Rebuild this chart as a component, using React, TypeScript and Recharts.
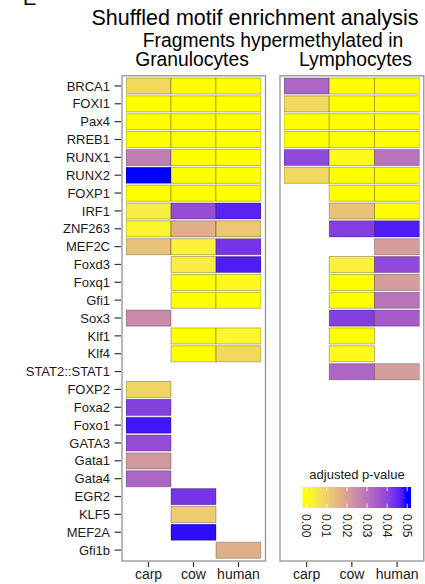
import React from 'react';
import { BarChart, Bar, XAxis, YAxis, Cell } from 'recharts';

// ---------------- data ----------------
const motifs = [
  'BRCA1', 'FOXI1', 'Pax4', 'RREB1', 'RUNX1', 'RUNX2', 'FOXP1', 'IRF1', 'ZNF263', 'MEF2C',
  'Foxd3', 'Foxq1', 'Gfi1', 'Sox3', 'Klf1', 'Klf4', 'STAT2::STAT1', 'FOXP2', 'Foxa2', 'Foxo1',
  'GATA3', 'Gata1', 'Gata4', 'EGR2', 'KLF5', 'MEF2A', 'Gfi1b',
];
const species = ['carp', 'cow', 'human'];
const N = null;

// adjusted p-values, Granulocytes panel (null = not enriched)
const granCarp = [0.008, 0, 0, 0, 0.028, 0.05, 0, 0.004, 0.002, 0.013, N, N, N, 0.025, N, N, N, 0.009, 0.041, 0.048, 0.038, 0.022, 0.033, N, N, N, N];
const granCow = [0, 0, 0, 0, 0, 0, 0, 0.038, 0.017, 0.003, 0.004, 0, 0, N, 0, 0, N, N, N, N, N, N, N, 0.043, 0.011, 0.049, N];
const granHuman = [0, 0, 0, 0, 0, 0, 0, 0.046, 0.012, 0.043, 0.047, 0.001, 0, N, 0.002, 0.008, N, N, N, N, N, N, N, N, N, N, 0.017];

// adjusted p-values, Lymphocytes panel
const lymCarp = [0.033, 0.008, 0, 0, 0.039, 0.008, N, N, N, N, N, N, N, N, N, N, N, N, N, N, N, N, N, N, N, N, N];
const lymCow = [0, 0, 0, 0, 0.001, 0, 0, 0.013, 0.041, N, 0.003, 0, 0, 0.041, 0, 0.001, 0.033, N, N, N, N, N, N, N, N, N, N];
const lymHuman = [0, 0, 0, 0, 0.03, 0, 0, 0, 0.047, 0.021, 0.039, 0.021, 0.03, 0.035, N, N, 0.021, N, N, N, N, N, N, N, N, N, N];

const legendTicks = [0, 0.01, 0.02, 0.03, 0.04, 0.05];
const P_MAX = 0.05;

// ---------------- colour scale (CIELAB interpolation yellow -> blue) ----------------
const toLin = (c: number) => { c /= 255; return c <= 0.04045 ? c / 12.92 : Math.pow((c + 0.055) / 1.055, 2.4); };
const fromLin = (c: number) => { const v = c <= 0.0031308 ? 12.92 * c : 1.055 * Math.pow(c, 1 / 2.4) - 0.055; return Math.round(Math.min(1, Math.max(0, v)) * 255); };
const Xn = 0.95047, Yn = 1, Zn = 1.08883;
function rgb2lab(r: number, g: number, b: number) {
  const R = toLin(r), G = toLin(g), B = toLin(b);
  const X = (0.4124564 * R + 0.3575761 * G + 0.1804375 * B) / Xn;
  const Y = (0.2126729 * R + 0.7151522 * G + 0.072175 * B) / Yn;
  const Z = (0.0193339 * R + 0.119192 * G + 0.9503041 * B) / Zn;
  const f = (t: number) => (t > 0.008856 ? Math.cbrt(t) : 7.787 * t + 16 / 116);
  const fx = f(X), fy = f(Y), fz = f(Z);
  return [116 * fy - 16, 500 * (fx - fy), 200 * (fy - fz)];
}
function lab2rgb(L: number, a: number, b: number) {
  const fy = (L + 16) / 116, fx = fy + a / 500, fz = fy - b / 200;
  const fi = (t: number) => (t > 0.206893 ? t * t * t : (t - 16 / 116) / 7.787);
  const X = fi(fx) * Xn, Y = fi(fy) * Yn, Z = fi(fz) * Zn;
  const R = 3.2404542 * X - 1.5371385 * Y - 0.4985314 * Z;
  const G = -0.969266 * X + 1.8760108 * Y + 0.041556 * Z;
  const B = 0.0556434 * X - 0.2040259 * Y + 1.0572252 * Z;
  return `rgb(${fromLin(R)},${fromLin(G)},${fromLin(B)})`;
}
const LOW = rgb2lab(255, 255, 0);
const HIGH = rgb2lab(0, 0, 255);
function pColor(p: number) {
  const t = Math.min(1, Math.max(0, p / P_MAX));
  return lab2rgb(LOW[0] + (HIGH[0] - LOW[0]) * t, LOW[1] + (HIGH[1] - LOW[1]) * t, LOW[2] + (HIGH[2] - LOW[2]) * t);
}

// ---------------- layout ----------------
const FONT = '"Liberation Sans", Arial, Helvetica, sans-serif';
const W = 425, H = 584;
const PLOT_TOP = 77, PLOT_BOTTOM = 559;
const BAND = (PLOT_BOTTOM - PLOT_TOP) / motifs.length;

function buildRows(carp: (number | null)[], cow: (number | null)[], human: (number | null)[]) {
  return motifs.map((m, i) => ({ name: m, carp: 1, cow: 1, human: 1, pcarp: carp[i], pcow: cow[i], phuman: human[i] }));
}
const granRows = buildRows(granCarp, granCow, granHuman);
const lymRows = buildRows(lymCarp, lymCow, lymHuman);

const YTick = (props: any) => {
  const { x, y, payload } = props;
  return (
    <g>
      <line x1={x - 11.5} x2={x - 5} y1={y} y2={y} stroke="#333" strokeWidth={1.2} />
      <text x={x - 16} y={y} dy="0.36em" textAnchor="end" fontSize={13} fill="#1a1a1a" fontFamily={FONT}>
        {payload.value}
      </text>
    </g>
  );
};

const XTick = (props: any) => {
  const { x, y, payload } = props;
  return (
    <g>
      <line x1={x} x2={x} y1={y + 3} y2={y + 8} stroke="#333" strokeWidth={1.2} />
      <text x={x} y={y + 20} textAnchor="middle" fontSize={14} fill="#1a1a1a" fontFamily={FONT}>
        {species[Math.floor(payload.value)]}
      </text>
    </g>
  );
};

function Heat({ rows, showY, left, width, marginLeft, marginRight }: any) {
  return (
    <div style={{ position: 'absolute', left, top: 0 }}>
      <BarChart
        width={width}
        height={H}
        data={rows}
        layout="vertical"
        barCategoryGap={0}
        barGap={0}
        margin={{ top: PLOT_TOP, right: marginRight, bottom: 0, left: marginLeft }}
      >
        <XAxis
          type="number"
          domain={[0, 3]}
          ticks={[0.5, 1.5, 2.5]}
          axisLine={false}
          tickLine={false}
          tickSize={0}
          tickMargin={0}
          height={H - PLOT_BOTTOM}
          tick={<XTick />}
          allowDataOverflow
        />
        <YAxis
          type="category"
          dataKey="name"
          hide={!showY}
          width={showY ? 126 : 0}
          axisLine={false}
          tickLine={false}
          tickSize={0}
          tickMargin={0}
          interval={0}
          tick={<YTick />}
        />
        {species.map((sp) => (
          <Bar key={sp} dataKey={sp} stackId="s" barSize={BAND} isAnimationActive={false}>
            {rows.map((r: any, i: number) => {
              const p = r['p' + sp];
              return p === null ? (
                <Cell key={i} fill="none" stroke="none" />
              ) : (
                <Cell key={i} fill={pColor(p)} stroke="#000" strokeOpacity={0.35} strokeWidth={0.8} />
              );
            })}
          </Bar>
        ))}
      </BarChart>
    </div>
  );
}

const LEG_X0 = 302.5, LEG_X1 = 411, LEG_Y0 = 487, LEG_Y1 = 508;
const LEG_T0 = 306.7, LEG_T1 = 407.3;
const legPos = (v: number) => LEG_T0 + (v / P_MAX) * (LEG_T1 - LEG_T0);

function Overlay() {
  const stops = [];
  for (let k = 0; k <= 20; k++) {
    const v = (k / 20) * P_MAX;
    const off = (legPos(v) - LEG_X0) / (LEG_X1 - LEG_X0);
    stops.push(<stop key={k} offset={off} stopColor={pColor(v)} />);
  }
  return (
    <svg width={W} height={H} style={{ position: 'absolute', left: 0, top: 0, pointerEvents: 'none' }} fontFamily={FONT}>
      <defs>
        <linearGradient id="pgrad" x1={LEG_X0} x2={LEG_X1} y1={0} y2={0} gradientUnits="userSpaceOnUse">
          <stop offset={0} stopColor={pColor(0)} />
          {stops}
          <stop offset={1} stopColor={pColor(P_MAX)} />
        </linearGradient>
      </defs>
      <text x={23} y={4.5} fontSize={20} fill="#000">E</text>
      <text x={255} y={25} fontSize={21.5} textAnchor="middle" fill="#000">Shuffled motif enrichment analysis</text>
      <text x={273} y={46.5} fontSize={19.3} textAnchor="middle" fill="#000">Fragments hypermethylated in</text>
      <text x={192} y={66} fontSize={19.3} textAnchor="middle" fill="#000">Granulocytes</text>
      <text x={355.5} y={66} fontSize={19.3} textAnchor="middle" fill="#000">Lymphocytes</text>

      <rect x={122} y={75.8} width={143.5} height={485.2} fill="none" stroke="#9a9a9a" strokeWidth={1.4} />
      <rect x={280} y={75.8} width={143.8} height={485.2} fill="none" stroke="#9a9a9a" strokeWidth={1.4} />

      <text x={357} y={479} fontSize={13} textAnchor="middle" fill="#1a1a1a">adjusted p-value</text>
      <rect x={LEG_X0} y={LEG_Y0} width={LEG_X1 - LEG_X0} height={LEG_Y1 - LEG_Y0} fill="url(#pgrad)" />
      {legendTicks.map((v) => (
        <g key={v}>
          <line x1={legPos(v)} x2={legPos(v)} y1={LEG_Y0} y2={LEG_Y0 + 4.3} stroke="#fff" strokeWidth={0.8} />
          <line x1={legPos(v)} x2={legPos(v)} y1={LEG_Y1 - 4.3} y2={LEG_Y1} stroke="#fff" strokeWidth={0.8} />
          <text transform={`translate(${legPos(v)},514) rotate(90)`} dy="0.36em" fontSize={12} fill="#1a1a1a">
            {v.toFixed(2)}
          </text>
        </g>
      ))}
    </svg>
  );
}

export default function App() {
  return (
    <div style={{ position: 'absolute', left: 0, top: 0, width: W, height: H, background: '#fff', overflow: 'hidden' }}>
      <Heat rows={granRows} showY left={0} width={270} marginLeft={0} marginRight={9} />
      <Heat rows={lymRows} showY={false} left={270} width={155} marginLeft={14} marginRight={5.3} />
      <Overlay />
    </div>
  );
}
